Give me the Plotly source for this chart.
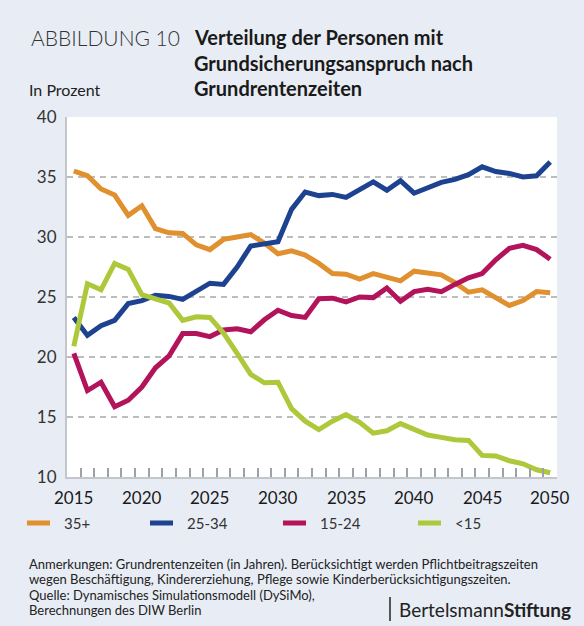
import plotly.graph_objects as go

years = list(range(2015, 2051))

s35plus = [35.5, 35.1, 34.0, 33.5, 31.8, 32.6, 30.7, 30.35, 30.3, 29.35, 28.95, 29.8, 30.0, 30.2, 29.5,
           28.6, 28.85, 28.5, 27.8, 26.95, 26.9, 26.5, 26.95, 26.65, 26.35, 27.15, 27.05, 26.85, 26.2,
           25.4, 25.6, 24.9, 24.3, 24.7, 25.45, 25.35]
s25_34 = [23.3, 21.8, 22.6, 23.05, 24.45, 24.7, 25.15, 25.05, 24.8, 25.45, 26.15, 26.05, 27.5, 29.25, 29.4,
          29.6, 32.3, 33.75, 33.45, 33.55, 33.3, 33.95, 34.6, 33.9, 34.7, 33.65, 34.15, 34.55, 34.8,
          35.2, 35.85, 35.45, 35.3, 35.0, 35.1, 36.25]
s15_24 = [20.3, 17.2, 17.9, 15.85, 16.4, 17.5, 19.1, 20.1, 21.95, 21.95, 21.7, 22.25, 22.35, 22.1, 23.1,
          23.9, 23.45, 23.3, 24.85, 24.9, 24.6, 25.0, 24.95, 25.75, 24.65, 25.45, 25.65, 25.45, 26.05,
          26.6, 26.95, 28.1, 29.05, 29.3, 28.95, 28.15]
s_lt15 = [20.9, 26.1, 25.6, 27.8, 27.3, 25.2, 24.85, 24.5, 23.05, 23.35, 23.3, 22.0, 20.3, 18.55, 17.85,
          17.9, 15.7, 14.65, 13.95, 14.65, 15.2, 14.55, 13.65, 13.85, 14.45, 13.95, 13.5, 13.3, 13.1,
          13.05, 11.8, 11.75, 11.35, 11.1, 10.6, 10.35]

series_names = ["35+", "25-34", "15-24", "<15"]
series_values = [s35plus, s25_34, s15_24, s_lt15]
colors = ["#e0902e", "#1d4390", "#b3135a", "#adc83a"]

x_ticks = [2015, 2020, 2025, 2030, 2035, 2040, 2045, 2050]
y_ticks = [10, 15, 20, 25, 30, 35, 40]

W, H = 584, 626
L, R, T, B = 67, 27, 117, 149
BG = "#e8edf5"
FONT = "Lato"

fig = go.Figure()
for name, vals, col in zip(series_names, series_values, colors):
    fig.add_trace(go.Scatter(x=years, y=vals, name=name, mode="lines",
                             line=dict(color=col, width=5, shape="linear"),
                             hoverinfo="skip", showlegend=False))

boundaries = [y + 0.5 for y in years[:-1]]

fig.update_layout(
    width=W, height=H,
    margin=dict(l=L, r=R, t=T, b=B, pad=0, autoexpand=False),
    paper_bgcolor=BG, plot_bgcolor="white",
    font=dict(family=FONT, color="#222222", size=17),
    showlegend=False,
    xaxis=dict(
        range=[2014.5, 2050.5], tickmode="array", tickvals=boundaries,
        ticktext=["" for _ in boundaries], ticks="inside", ticklen=9, tickwidth=2,
        tickcolor="#9ea2a8", showgrid=False,
        showline=True, linecolor="#c3c6cc", linewidth=2, zeroline=False,
    ),
    yaxis=dict(
        range=[10, 40], tickmode="array", tickvals=y_ticks, ticks="",
        showgrid=True, gridcolor="#bdbdbd", gridwidth=1.5, griddash="6px,5px",
        showline=True, linecolor="#c3c6cc", linewidth=2, zeroline=False,
        tickfont=dict(family=FONT, size=17, color="#333333"),
        ticklabelstandoff=5,
    ),
)

pw = W - L - R
ph = H - T - B

def px(x):
    return (x - L) / pw

def py(y):
    return (H - B - y) / ph

ann = []
# x-axis year labels, positioned through the x scale
for v in x_ticks:
    ann.append(dict(text=str(v), x=v, xref="x", y=py(497), yref="paper", xanchor="center",
                    yanchor="middle", font=dict(family=FONT, size=17, color="#1a1a1a"), showarrow=False))

ann.append(dict(text='<span style="font-weight:300">ABBILDUNG 10</span>', x=px(29), y=py(38),
                xanchor="left", yanchor="middle",
                font=dict(family=FONT, size=21, color="#333333"), showarrow=False))
for i, line in enumerate(["Verteilung der Personen mit", "Grundsicherungsanspruch nach", "Grundrentenzeiten"]):
    ann.append(dict(text="<b>" + line + "</b>", x=px(192), y=py(37 + 25.5 * i), xanchor="left",
                    yanchor="middle", font=dict(family=FONT, size=20, color="#1a1a1a"), showarrow=False))
ann.append(dict(text="In Prozent", x=px(27), y=py(89), xanchor="left", yanchor="middle",
                font=dict(family=FONT, size=16, color="#222222"), showarrow=False))

# legend (drawn manually)
leg_x = [27, 150, 283, 418]
for name, col, lx in zip(series_names, colors, leg_x):
    fig.add_shape(type="line", xref="paper", yref="paper", x0=px(lx), x1=px(lx + 23),
                  y0=py(523), y1=py(523), line=dict(color=col, width=5))
    ann.append(dict(text=name, x=px(lx + 35), y=py(523), xanchor="left", yanchor="middle",
                    font=dict(family=FONT, size=15, color="#333333"), showarrow=False))

notes = ["Anmerkungen: Grundrentenzeiten (in Jahren). Berücksichtigt werden Pflichtbeitragszeiten",
         "wegen Beschäftigung, Kindererziehung, Pflege sowie Kinderberücksichtigungszeiten.",
         "Quelle: Dynamisches Simulationsmodell (DySiMo),",
         "Berechnungen des DIW Berlin"]
for i, line in enumerate(notes):
    ann.append(dict(text=line, x=px(27), y=py(564 + 15.3 * i), xanchor="left", yanchor="middle",
                    font=dict(family=FONT, size=13, color="#222222"), showarrow=False))

ann.append(dict(text="Bertelsmann<b>Stiftung</b>", x=px(573), y=py(609), xanchor="right", yanchor="middle",
                font=dict(family=FONT, size=19, color="#222222"), showarrow=False))

for a in ann:
    a.setdefault("xref", "paper")
    a.setdefault("yref", "paper")
    fig.add_annotation(**a)

fig.add_shape(type="line", xref="paper", yref="paper", x0=px(390), x1=px(390), y0=py(597), y1=py(621),
              line=dict(color="#222222", width=1.5))

fig.write_html("out.html", config={"displayModeBar": False},
               post_script="document.body.style.margin='0';")
